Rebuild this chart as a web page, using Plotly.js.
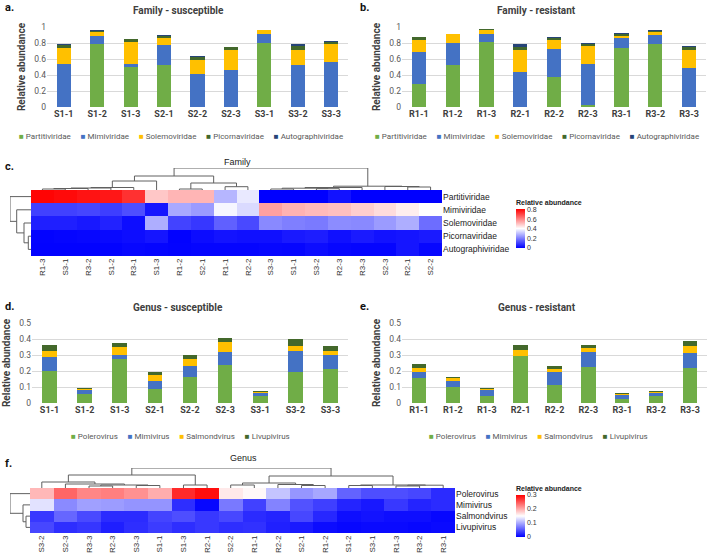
<!DOCTYPE html>
<html><head><meta charset="utf-8">
<script src="https://cdn.plot.ly/plotly-3.0.1.min.js"></script>
<style>html,body{margin:0;padding:0;background:#fff}#chart{width:709px;height:554px}</style>
</head><body><div id="chart"></div>
<script>
// ---------- categories ----------
const susSamples = ['S1-1','S1-2','S1-3','S2-1','S2-2','S2-3','S3-1','S3-2','S3-3'];
const resSamples = ['R1-1','R1-2','R1-3','R2-1','R2-2','R2-3','R3-1','R3-2','R3-3'];
const familyNames = ['Partitiviridae','Mimiviridae','Solemoviridae','Picornaviridae','Autographiviridae'];
const genusNames = ['Polerovirus','Mimivirus','Salmondvirus','Livupivirus'];

// ---------- family, susceptible ----------
const famSusPartiti = [0, 0.783, 0.500, 0.529, 0, 0, 0.804, 0, 0];
const famSusMimi    = [0.533, 0.100, 0.033, 0.250, 0.408, 0.467, 0.104, 0.521, 0.563];
const famSusSolemo  = [0.204, 0.055, 0.280, 0.088, 0.175, 0.250, 0.050, 0.196, 0.220];
const famSusPicorna = [0.040, 0.015, 0.033, 0.020, 0.042, 0.029, 0.008, 0.046, 0.025];
const famSusAutogr  = [0.010, 0.005, 0.008, 0.008, 0.012, 0.008, 0.003, 0.021, 0.012];
// ---------- family, resistant ----------
const famResPartiti = [0.292, 0.529, 0.813, 0, 0.375, 0.029, 0.742, 0.790, 0];
const famResMimi    = [0.396, 0.271, 0.104, 0.438, 0.350, 0.513, 0.125, 0.113, 0.488];
const famResSolemo  = [0.154, 0.108, 0.050, 0.279, 0.117, 0.225, 0.021, 0.038, 0.221];
const famResPicorna = [0.030, 0.004, 0.005, 0.033, 0.025, 0.025, 0.021, 0.012, 0.042];
const famResAutogr  = [0.008, 0.005, 0.003, 0.033, 0.008, 0.012, 0.012, 0.004, 0.008];
// ---------- genus, susceptible ----------
const genSusPolero  = [0.198, 0.058, 0.275, 0.088, 0.163, 0.240, 0.046, 0.192, 0.215];
const genSusMimi    = [0.087, 0.021, 0.027, 0.048, 0.071, 0.081, 0.014, 0.133, 0.087];
const genSusSalmond = [0.040, 0.008, 0.046, 0.042, 0.042, 0.060, 0.011, 0.033, 0.025];
const genSusLivupi  = [0.035, 0.004, 0.027, 0.015, 0.027, 0.027, 0.006, 0.042, 0.027];
// ---------- genus, resistant ----------
const genResPolero  = [0.154, 0.098, 0.046, 0.292, 0.115, 0.225, 0.025, 0.042, 0.221];
const genResMimi    = [0.038, 0.037, 0.033, 0.004, 0.077, 0.092, 0.025, 0.021, 0.094];
const genResSalmond = [0.025, 0.023, 0.008, 0.033, 0.021, 0.025, 0.004, 0.008, 0.043];
const genResLivupi  = [0.029, 0.007, 0.006, 0.033, 0.019, 0.018, 0.006, 0.004, 0.032];

// ---------- clustering trees: [height, left, right] ----------
const famColTree = [22,
  [14, [9, [2.5, [2, [1.5, [1, 'R1-3','S3-1'], 'R3-2'], 'S1-2'], 'R3-1'], 'S1-3'],
       [7, [1, 'R1-2','S2-1'], [3.3, 'R1-1','R2-2']]],
  [3.8, [2.5, [1.8, [1, 'S3-3','S1-1'], [1.3, 'S3-2','R2-3']], 'R3-3'],
        [3.5, 'S2-3', [3, 'R2-1','S2-2']]]];
const famRowTree = [21, 'Partitiviridae', [14.3, 'Mimiviridae', [7, 'Solemoviridae', [2.7, 'Picornaviridae','Autographiviridae']]]];
const genColTree = [20,
  [13, [6, 'S3-2', [4, 'S2-3', [3, [2, 'R3-3','R2-3'], [2.5, 'S3-3','S1-1']]]], [3, 'S1-3','R2-1']],
  [12, [5, [3, 'S2-2','R1-1'], [3.5, 'R2-2', [2.5, 'S2-1','R1-2']]],
       [3, [2.5, 'S1-2','S3-1'], [2.8, [2, 'R1-3','R3-2'], 'R3-1']]]];
const genRowTree = [20, 'Polerovirus', [7, 'Mimivirus', [4, 'Salmondvirus','Livupivirus']]];

const famColors = ['#70AD47','#4472C4','#FFC000','#43682B','#264478'];
const genColors = ['#70AD47','#4472C4','#FFC000','#43682B'];

// ---------- helpers ----------
const W = 709, H = 554;
const fx = p => p / W, fy = p => 1 - p / H;
const excelFont = 'Roboto, "Liberation Sans", sans-serif';
const hmFont = '"Liberation Sans", Arial, sans-serif';

function dendro(tree) {
  const pos = [], hgt = [], leaves = [];
  (function walk(node) {
    if (typeof node === 'string') { leaves.push(node); return {p: leaves.length - 1, h: 0}; }
    const a = walk(node[1]), b = walk(node[2]), h = node[0];
    pos.push(a.p, a.p, b.p, b.p, null);
    hgt.push(a.h, h, h, b.h, null);
    return {p: (a.p + b.p) / 2, h: h};
  })(tree);
  return {pos, hgt, leaves};
}
function valueOf(susArr, resArr, s) {
  const i = susSamples.indexOf(s);
  return i >= 0 ? susArr[i] : resArr[resSamples.indexOf(s)];
}

const famSus = [famSusPartiti, famSusMimi, famSusSolemo, famSusPicorna, famSusAutogr];
const famRes = [famResPartiti, famResMimi, famResSolemo, famResPicorna, famResAutogr];
const genSus = [genSusPolero, genSusMimi, genSusSalmond, genSusLivupi];
const genRes = [genResPolero, genResMimi, genResSalmond, genResLivupi];

const famColD = dendro(famColTree), famRowD = dendro(famRowTree);
const genColD = dendro(genColTree), genRowD = dendro(genRowTree);
const famZ = famRowD.leaves.map(n => { const k = familyNames.indexOf(n); return famColD.leaves.map(s => valueOf(famSus[k], famRes[k], s)); });
const genZ = genRowD.leaves.map(n => { const k = genusNames.indexOf(n); return genColD.leaves.map(s => valueOf(genSus[k], genRes[k], s)); });

function bars(samples, arrs, names, colors, xa, ya) {
  return arrs.map((v, i) => ({type: 'bar', x: samples, y: v, name: names[i],
    marker: {color: colors[i], line: {width: 0}}, width: 0.42, xaxis: xa, yaxis: ya,
    showlegend: false, hoverinfo: 'skip'}));
}
const lineStyle = {color: '#606060', width: 1};
function dLine(x, y, xa, ya) { return {type: 'scatter', mode: 'lines', x, y, xaxis: xa, yaxis: ya, line: lineStyle, hoverinfo: 'skip', showlegend: false}; }

const bwr = [[0, '#0000FF'], [0.5, '#FFFFFF'], [1, '#FF0000']];
function cbar(top, bottom, tickvals) {
  return {x: fx(516), xanchor: 'left', xpad: 0, ypad: 0, y: fy((top + bottom) / 2), yanchor: 'middle',
    len: (bottom - top) / H, lenmode: 'fraction', thickness: 9, outlinewidth: 0, ticks: '',
    tickvals, tickfont: {family: hmFont, size: 7, color: '#333'},
    title: {text: 'Relative abundance', side: 'top', font: {family: hmFont, size: 7, color: '#222', weight: 'bold'}}};
}

const data = [
  ...bars(susSamples, famSus, familyNames, famColors, 'x', 'y'),
  ...bars(resSamples, famRes, familyNames, famColors, 'x2', 'y2'),
  {type: 'heatmap', z: famZ, x: famColD.leaves.map((_, i) => i), y: famRowD.leaves.map((_, i) => i),
   xaxis: 'x3', yaxis: 'y3', colorscale: bwr, zmin: 0, zmax: 0.82, hoverinfo: 'skip',
   colorbar: cbar(197, 248, [0, 0.2, 0.4, 0.6, 0.8])},
  dLine(famColD.pos, famColD.hgt, 'x4', 'y4'),
  dLine(famRowD.hgt, famRowD.pos, 'x5', 'y5'),
  ...bars(susSamples, genSus, genusNames, genColors, 'x6', 'y6'),
  ...bars(resSamples, genRes, genusNames, genColors, 'x7', 'y7'),
  {type: 'heatmap', z: genZ, x: genColD.leaves.map((_, i) => i), y: genRowD.leaves.map((_, i) => i),
   xaxis: 'x8', yaxis: 'y8', colorscale: bwr, zmin: 0, zmax: 0.30, hoverinfo: 'skip',
   colorbar: cbar(483, 537, [0, 0.1, 0.2, 0.3])},
  dLine(genColD.pos, genColD.hgt, 'x9', 'y9'),
  dLine(genRowD.hgt, genRowD.pos, 'x10', 'y10')
];

function barXAxis(x0, x1, anchor) {
  return {domain: [fx(x0), fx(x1)], anchor, type: 'category', ticks: '', showgrid: false, zeroline: false, showline: false,
    tickfont: {family: excelFont, size: 9, color: '#404040', weight: 'bold'}};
}
function barYAxis(y0, y1, anchor, max, dtick) {
  return {domain: [fy(y1), fy(y0)], anchor, range: [0, max * 1.0005], tick0: 0, dtick, ticks: '',
    showgrid: true, gridcolor: '#D9D9D9', gridwidth: 1, zeroline: false, showline: false,
    tickfont: {family: excelFont, size: 8.5, color: '#595959'},
    title: {text: 'Relative abundance', standoff: 6, font: {family: excelFont, size: 10, color: '#404040', weight: 'bold'}}};
}
function hmXAxis(x0, x1, anchor, labels) {
  return {domain: [fx(x0), fx(x1)], anchor, range: [-0.5, labels.length - 0.5], tickvals: labels.map((_, i) => i),
    ticktext: labels, tickangle: -90, ticks: '', showgrid: false, zeroline: false, showline: false,
    tickfont: {family: hmFont, size: 8, color: '#333'}};
}
function hmYAxis(y0, y1, anchor, labels) {
  return {domain: [fy(y1), fy(y0)], anchor, side: 'right', range: [labels.length - 0.5, -0.5], tickvals: labels.map((_, i) => i),
    ticktext: labels, ticks: '', showgrid: false, zeroline: false, showline: false,
    tickfont: {family: hmFont, size: 8.5, color: '#222'}};
}
const hidden = (dom, anchor, range) => ({domain: dom, anchor, range, visible: false, fixedrange: true});

function legendText(names, colors) {
  return names.map((n, i) => '<span style="color:' + colors[i] + '">\u25A0</span>\u00A0' + n).join('\u00A0\u00A0\u00A0\u00A0\u00A0');
}
function ann(text, x, y, size, opts) {
  return Object.assign({text, x: fx(x), y: fy(y), xref: 'paper', yref: 'paper', showarrow: false,
    xanchor: 'center', yanchor: 'middle', font: {family: excelFont, size, color: '#404040'}}, opts || {});
}

const layout = {
  width: W, height: H, margin: {l: 0, r: 0, t: 0, b: 0}, paper_bgcolor: '#fff', plot_bgcolor: 'rgba(0,0,0,0)',
  barmode: 'stack', showlegend: false, hovermode: false,
  xaxis: barXAxis(47, 348, 'y'), yaxis: barYAxis(27, 107, 'x', 1, 0.2),
  xaxis2: barXAxis(402, 706, 'y2'), yaxis2: barYAxis(27, 107, 'x2', 1, 0.2),
  xaxis3: hmXAxis(31, 442, 'y3', famColD.leaves), yaxis3: hmYAxis(190, 256, 'x3', famRowD.leaves),
  xaxis4: hidden([fx(31), fx(442)], 'y4', [-0.5, famColD.leaves.length - 0.5]), yaxis4: hidden([fy(190), fy(168)], 'x4', [0, famColTree[0]]),
  xaxis5: hidden([fx(10), fx(31)], 'y5', [famRowTree[0], 0]), yaxis5: hidden([fy(256), fy(190)], 'x5', [famRowD.leaves.length - 0.5, -0.5]),
  xaxis6: barXAxis(32, 348, 'y6'), yaxis6: barYAxis(323, 403, 'x6', 0.5, 0.1),
  xaxis7: barXAxis(402, 707, 'y7'), yaxis7: barYAxis(323, 403, 'x7', 0.5, 0.1),
  xaxis8: hmXAxis(30, 455, 'y8', genColD.leaves), yaxis8: hmYAxis(488, 533, 'x8', genRowD.leaves),
  xaxis9: hidden([fx(30), fx(455)], 'y9', [-0.5, genColD.leaves.length - 0.5]), yaxis9: hidden([fy(488), fy(468)], 'x9', [0, genColTree[0]]),
  xaxis10: hidden([fx(10), fx(30)], 'y10', [genRowTree[0], 0]), yaxis10: hidden([fy(533), fy(488)], 'x10', [genRowD.leaves.length - 0.5, -0.5]),
  annotations: [
    ann('<b>a.</b>', 3, 8, 11, {xanchor: 'left', font: {family: excelFont, size: 11, color: '#111'}}),
    ann('<b>b.</b>', 358, 8, 11, {xanchor: 'left', font: {family: excelFont, size: 11, color: '#111'}}),
    ann('<b>c.</b>', 3, 166, 11, {xanchor: 'left', font: {family: excelFont, size: 11, color: '#111'}}),
    ann('<b>d.</b>', 3, 306, 11, {xanchor: 'left', font: {family: excelFont, size: 11, color: '#111'}}),
    ann('<b>e.</b>', 358, 306, 11, {xanchor: 'left', font: {family: excelFont, size: 11, color: '#111'}}),
    ann('<b>f.</b>', 3, 463, 11, {xanchor: 'left', font: {family: excelFont, size: 11, color: '#111'}}),
    ann('<b>Family - susceptible</b>', 178, 10, 10),
    ann('<b>Family - resistant</b>', 536, 10, 10),
    ann('<b>Genus - susceptible</b>', 178, 307, 10),
    ann('<b>Genus - resistant</b>', 537, 307, 10),
    ann('Family', 238, 162, 9, {font: {family: hmFont, size: 9, color: '#222'}}),
    ann('Genus', 243, 458, 9, {font: {family: hmFont, size: 9, color: '#222'}}),
    ann(legendText(familyNames, famColors), 181, 137, 8, {font: {family: excelFont, size: 8, color: '#595959'}}),
    ann(legendText(familyNames, famColors), 537, 137, 8, {font: {family: excelFont, size: 8, color: '#595959'}}),
    ann(legendText(genusNames, genColors), 180, 436, 8, {font: {family: excelFont, size: 8, color: '#595959'}}),
    ann(legendText(genusNames, genColors), 538, 436, 8, {font: {family: excelFont, size: 8, color: '#595959'}})
  ]
};

Plotly.newPlot('chart', data, layout, {staticPlot: true, displayModeBar: false});
</script>
</body></html>
